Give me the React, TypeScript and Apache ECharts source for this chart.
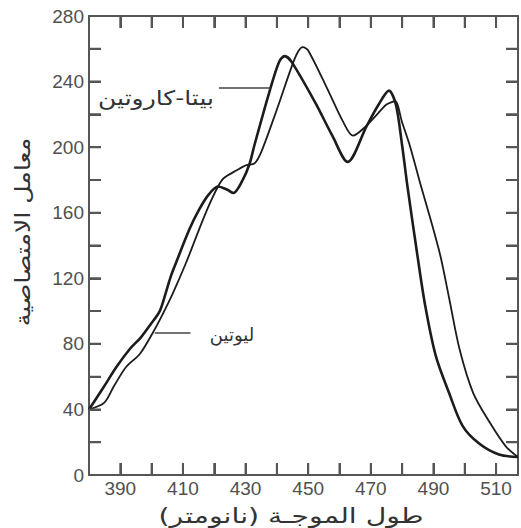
import React, { useEffect, useRef } from "react";
import * as echarts from "echarts";

// Wavelength (nm) and absorbance readings
const betaCaroteneWavelength = [380, 384.8, 388.8, 393.1, 396.6, 399.7, 402.6, 404.5, 406.1, 407.7, 412.1, 415.2, 418.2, 421.2, 424.2, 426.1, 429.1, 431.3, 432.8, 437.5, 440.7, 442.5, 444.7, 452.3, 457.7, 462.6, 468.7, 472.5, 475.8, 478, 480, 481.7, 484.8, 487.3, 490.7, 495, 499.3, 504.7, 510.9, 517];
const betaCaroteneAbsorbance = [40, 54, 66, 77, 84, 92, 100, 111, 121, 129, 150, 162, 171, 176, 174, 172, 180, 190, 201, 233, 252, 255.5, 252, 227, 207, 191, 213, 226, 234.5, 226, 201, 176, 135, 104, 73, 50, 30, 19, 12.5, 11];

const luteinWavelength = [380, 384.8, 387.9, 391.9, 396.3, 400.3, 403.5, 406.8, 410.9, 415.2, 418.2, 421.2, 423, 427.3, 430.3, 432.8, 435, 440, 444.7, 446.7, 448.3, 450, 456.5, 461, 464.3, 468, 472, 475, 477.7, 480, 482.6, 485.9, 489.3, 492.3, 495, 498.3, 502.7, 508, 513.1, 517];
const luteinAbsorbance = [40, 44, 54, 66, 74, 86.5, 98, 111, 129, 150, 164, 176, 181, 186, 189, 190, 197, 223, 249, 258, 261, 259, 234, 216, 207, 212, 220, 226, 228, 215, 200, 177, 154.5, 133, 108, 77, 50, 32, 17.5, 11];

const xTickLabels = [390, 410, 430, 450, 470, 490, 510];
const yTickLabels = [0, 40, 80, 120, 160, 200, 240, 280];
const xTickMarks = [390, 400, 410, 420, 430, 440, 450, 460, 470, 480, 490, 500, 510];
const yTickMarks = [20, 40, 60, 80, 100, 120, 140, 160, 180, 200, 220, 240, 260];

const X_MIN = 380;
const X_MAX = 517;
const Y_MIN = 0;
const Y_MAX = 280;

const betaLabel = "بيتا-كاروتين";
const luteinLabel = "ليوتين";
const xName = "طول الموجـة (نانومتر)";
const yName = "معامل الامتصاصية";

const zip = (xs: number[], ys: number[]) => xs.map((x, i) => [x, ys[i]]);

const W = 521;
const H = 528;
const GRID = { left: 89, top: 16, right: 1, bottom: 53 };
const AXIS = "#555";
const TXT = "#505050";
const LINE = "#1c1c1c";
const ARABIC = "'DejaVu Sans', 'Noto Sans', sans-serif";
const DIGITS = "'Liberation Sans', Arial, sans-serif";
const TICK_LEN = 12;

// tick length expressed in data units of each axis
const DX = ((X_MAX - X_MIN) * TICK_LEN) / (W - GRID.left - GRID.right);
const DY = ((Y_MAX - Y_MIN) * TICK_LEN) / (H - GRID.top - GRID.bottom);

// every tick as a two-point segment, separated by empty points so the line breaks
const GAP = [NaN, NaN];
const tickPolyline: number[][] = [];
xTickMarks.forEach((v) => {
  tickPolyline.push([v, Y_MIN], [v, Y_MIN + DY], GAP);
  tickPolyline.push([v, Y_MAX], [v, Y_MAX - DY], GAP);
});
yTickMarks.forEach((v) => {
  tickPolyline.push([X_MIN, v], [X_MIN + DX, v], GAP);
  tickPolyline.push([X_MAX, v], [X_MAX - DX, v], GAP);
});

const mkLine = () => ({ show: true, onZero: false, lineStyle: { color: AXIS, width: 2 } });
const mkTick = () => ({ show: true, inside: true, length: TICK_LEN, lineStyle: { color: AXIS, width: 2 } });

export default function App() {
  const ref = useRef<HTMLDivElement>(null);
  useEffect(() => {
    if (!ref.current) return;
    const chart = echarts.init(ref.current, undefined, { renderer: "svg" });
    chart.setOption({
      animation: false,
      backgroundColor: "#ffffff",
      grid: GRID,
      xAxis: [
        {
          type: "value",
          position: "bottom",
          min: X_MIN,
          max: X_MAX,
          interval: 10,
          axisLine: mkLine(),
          axisTick: mkTick(),
          splitLine: { show: false },
          axisLabel: {
            show: true,
            color: TXT,
            fontSize: 19,
            fontFamily: DIGITS,
            margin: 4,
            formatter: (v: number) => (xTickLabels.includes(v) ? String(v) : ""),
          },
        },
        {
          type: "value",
          position: "top",
          min: X_MIN,
          max: X_MAX,
          interval: 10,
          axisLine: mkLine(),
          axisTick: mkTick(),
          splitLine: { show: false },
          axisLabel: { show: false },
        },
      ],
      yAxis: [
        {
          type: "value",
          position: "left",
          min: Y_MIN,
          max: Y_MAX,
          interval: 20,
          axisLine: mkLine(),
          axisTick: mkTick(),
          splitLine: { show: false },
          axisLabel: {
            show: true,
            color: TXT,
            fontSize: 19,
            fontFamily: DIGITS,
            margin: 5,
            formatter: (v: number) => (yTickLabels.includes(v) ? String(v) : ""),
          },
        },
        {
          type: "value",
          position: "right",
          min: Y_MIN,
          max: Y_MAX,
          interval: 20,
          axisLine: mkLine(),
          axisTick: mkTick(),
          splitLine: { show: false },
          axisLabel: { show: false },
        },
      ],
      series: [
        {
          name: betaLabel,
          type: "line",
          data: zip(betaCaroteneWavelength, betaCaroteneAbsorbance),
          smooth: 0.3,
          showSymbol: false,
          lineStyle: { color: LINE, width: 2.6 },
          markLine: {
            silent: true,
            symbol: ["none", "none"],
            label: { show: false },
            lineStyle: { color: "#444", width: 1.6, type: "solid" },
            data: [[{ coord: [421.5, 236] }, { coord: [438, 236] }]],
          },
        },
        {
          name: luteinLabel,
          type: "line",
          data: zip(luteinWavelength, luteinAbsorbance),
          smooth: 0.3,
          showSymbol: false,
          lineStyle: { color: LINE, width: 1.8 },
          markLine: {
            silent: true,
            symbol: ["none", "none"],
            label: { show: false },
            lineStyle: { color: "#444", width: 1.6, type: "solid" },
            data: [[{ coord: [401, 87] }, { coord: [412.4, 87] }]],
          },
        },
        {
          name: "ticks",
          type: "line",
          data: tickPolyline,
          connectNulls: false,
          smooth: false,
          clip: false,
          silent: true,
          showSymbol: false,
          lineStyle: { color: AXIS, width: 2 },
        },
      ],
      graphic: [
        {
          type: "text",
          x: 156,
          y: 98,
          scaleX: 1.25,
          style: { text: betaLabel, fill: "#333", font: `20px ${ARABIC}`, textAlign: "center", textVerticalAlign: "middle" },
        },
        {
          type: "text",
          x: 232,
          y: 334,
          style: { text: luteinLabel, fill: "#333", font: `18px ${ARABIC}`, textAlign: "center", textVerticalAlign: "middle" },
        },
        {
          type: "text",
          x: 291,
          y: 516,
          scaleX: 1.35,
          style: { text: xName, fill: "#333", font: `21px ${ARABIC}`, textAlign: "center", textVerticalAlign: "middle" },
        },
        {
          type: "text",
          x: 22,
          y: 232,
          rotation: Math.PI / 2,
          scaleX: 1.2,
          style: { text: yName, fill: "#333", font: `21px ${ARABIC}`, textAlign: "center", textVerticalAlign: "middle" },
        },
      ],
    });
    return () => chart.dispose();
  }, []);
  return <div ref={ref} style={{ position: "absolute", left: 0, top: 0, width: W, height: H }} />;
}
